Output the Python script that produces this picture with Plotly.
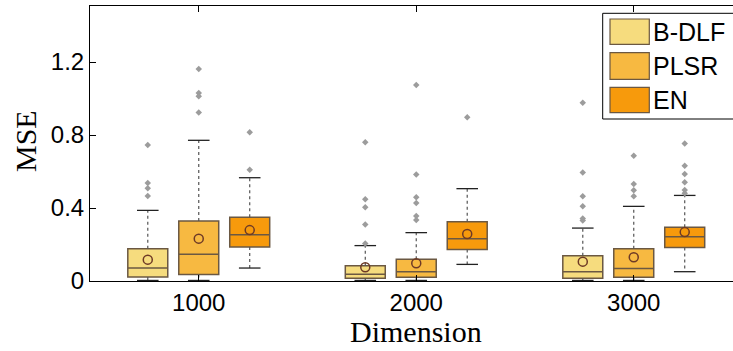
import plotly.graph_objects as go

# ---------------- data ----------------
dimensions = ["1000", "2000", "3000"]
methods = ["B-DLF", "PLSR", "EN"]

q1 = {
    "B-DLF": [0.022, 0.015, 0.015],
    "PLSR": [0.035, 0.020, 0.020],
    "EN": [0.186, 0.172, 0.183],
}
median = {
    "B-DLF": [0.071, 0.037, 0.051],
    "PLSR": [0.146, 0.051, 0.069],
    "EN": [0.254, 0.232, 0.243],
}
q3 = {
    "B-DLF": [0.177, 0.084, 0.139],
    "PLSR": [0.329, 0.119, 0.177],
    "EN": [0.349, 0.325, 0.294],
}
lower_whisker = {
    "B-DLF": [0.003, 0.003, 0.003],
    "PLSR": [0.003, 0.003, 0.003],
    "EN": [0.071, 0.091, 0.051],
}
upper_whisker = {
    "B-DLF": [0.387, 0.194, 0.290],
    "PLSR": [0.771, 0.265, 0.409],
    "EN": [0.566, 0.506, 0.469],
}
mean = {
    "B-DLF": [0.117, 0.075, 0.106],
    "PLSR": [0.232, 0.097, 0.130],
    "EN": [0.279, 0.258, 0.268],
}
outliers = {
    "B-DLF": [[0.745, 0.537, 0.508, 0.466],
              [0.760, 0.448, 0.404, 0.309, 0.206],
              [0.977, 0.594, 0.464, 0.409, 0.343, 0.331]],
    "PLSR": [[1.162, 1.030, 1.012, 0.924],
             [1.074, 0.583, 0.459, 0.427, 0.356, 0.334],
             [0.687, 0.532, 0.497, 0.464]],
    "EN": [[0.815, 0.610],
           [0.897],
           [0.754, 0.632, 0.586, 0.541, 0.499, 0.481]],
}
y_ticks = [0, 0.4, 0.8, 1.2]
y_tick_labels = ["0", "0.4", "0.8", "1.2"]

# ---------------- style ----------------
fills = {"B-DLF": "#F6DC7E", "PLSR": "#F7B941", "EN": "#F79A0C"}
edge = "#6b5842"
mean_edge = "#6e3a26"
outlier_color = "#9c9c9c"

W, H = 733, 351
L, T, B = 90, 6, 70
plot_w = W - L
plot_h = H - T - B
x_min = 0.5
x_max = x_min + plot_w / 217.5   # right side cropped like the original
y_max = 1.507

boxgap = 0.297
boxgroupgap = 0.216
slot = (1 - boxgap) / len(methods)          # slot width in x units
box_w = slot * (1 - boxgroupgap)
cap_half = box_w * 0.27

fig = go.Figure()

xs = [1, 2, 3]
for k, m in enumerate(methods):
    off = (k - (len(methods) - 1) / 2) * slot
    fig.add_trace(go.Box(
        x=xs, q1=q1[m], median=median[m], q3=q3[m],
        lowerfence=q1[m], upperfence=q3[m],
        name=m, fillcolor=fills[m],
        line=dict(color=edge, width=1.5),
        whiskerwidth=0, boxpoints=False, showlegend=False,
        hoverinfo="skip",
    ))
    # dotted whiskers
    wx, wy = [], []
    cx, cy = [], []
    for i, g in enumerate(xs):
        p = g + off
        wx += [p, p, None, p, p, None]
        wy += [q3[m][i], upper_whisker[m][i], None, q1[m][i], lower_whisker[m][i], None]
        for v in (upper_whisker[m][i], lower_whisker[m][i]):
            cx += [p - cap_half, p + cap_half, None]
            cy += [v, v, None]
    fig.add_trace(go.Scatter(x=wx, y=wy, mode="lines",
                             line=dict(color="#555555", width=1.2, dash="dot"),
                             showlegend=False, hoverinfo="skip"))
    fig.add_trace(go.Scatter(x=cx, y=cy, mode="lines",
                             line=dict(color="#222222", width=1.3),
                             showlegend=False, hoverinfo="skip"))
    # outliers
    ox, oy = [], []
    for i, g in enumerate(xs):
        for v in outliers[m][i]:
            ox.append(g + off)
            oy.append(v)
    fig.add_trace(go.Scatter(x=ox, y=oy, mode="markers",
                             marker=dict(symbol="diamond", size=5, color=outlier_color),
                             showlegend=False, hoverinfo="skip"))
    # means
    fig.add_trace(go.Scatter(x=[g + off for g in xs], y=mean[m], mode="markers",
                             marker=dict(symbol="circle-open", size=9,
                                         color=mean_edge, line=dict(width=1.5, color=mean_edge)),
                             showlegend=False, hoverinfo="skip"))

# ---------------- manual legend (MATLAB style) ----------------
def px(xp):
    return (xp - L) / plot_w

def py(yp):
    return (T + plot_h - yp) / plot_h

shapes = [dict(type="rect", xref="paper", yref="paper",
               x0=px(602.7), x1=px(760), y0=py(119), y1=py(13.3),
               line=dict(color="#000000", width=1), fillcolor="white", layer="above")]
annotations = []
rows = [(19, 44.3), (52.7, 79.3), (87.3, 112.7)]
for m, (t0, t1) in zip(methods, rows):
    shapes.append(dict(type="rect", xref="paper", yref="paper",
                       x0=px(610), x1=px(649.3), y0=py(t1), y1=py(t0),
                       line=dict(color=edge, width=1.2), fillcolor=fills[m], layer="above"))
    annotations.append(dict(xref="paper", yref="paper", x=px(651), y=py((t0 + t1) / 2),
                            text=m, showarrow=False, xanchor="left", yanchor="middle",
                            font=dict(family="Liberation Sans, Arial", size=25, color="#000")))

annotations.append(dict(xref="paper", yref="paper", x=px(25), y=py(141), text="MSE",
                        textangle=-90, showarrow=False, xanchor="center", yanchor="middle",
                        font=dict(family="Liberation Serif, Times New Roman", size=30, color="#000")))
annotations.append(dict(xref="x", yref="paper", x=2, y=py(331), text="Dimension",
                        showarrow=False, xanchor="center", yanchor="middle",
                        font=dict(family="Liberation Serif, Times New Roman", size=30, color="#000")))

fig.update_layout(
    width=W, height=H,
    margin=dict(l=L, r=0, t=T, b=B),
    paper_bgcolor="white", plot_bgcolor="white",
    boxmode="group", boxgap=boxgap, boxgroupgap=boxgroupgap,
    shapes=shapes, annotations=annotations,
    showlegend=False,
)
fig.update_xaxes(range=[x_min, x_max], tickvals=xs, ticktext=dimensions,
                 showline=True, linecolor="#000", linewidth=1, mirror="ticks",
                 ticks="inside", ticklen=6, tickcolor="#000", showgrid=False, zeroline=False,
                 tickfont=dict(family="Liberation Sans, Arial", size=24, color="#000"))
fig.update_yaxes(range=[0, y_max], tickvals=y_ticks, ticktext=y_tick_labels,
                 showline=True, linecolor="#000", linewidth=1, mirror=False,
                 ticks="inside", ticklen=6, tickcolor="#000", showgrid=False, zeroline=False,
                 tickfont=dict(family="Liberation Sans, Arial", size=24, color="#000"))

fig.write_html("out.html", config={"displayModeBar": False},
               post_script="document.body.style.margin='0';document.body.style.overflow='hidden';")
